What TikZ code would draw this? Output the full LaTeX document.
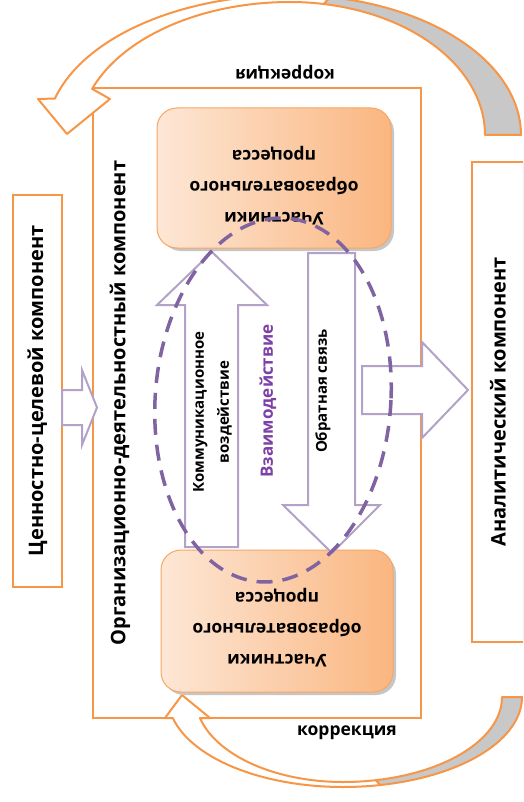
\documentclass[tikz,border=0pt]{standalone}
\usepackage{fontspec}
\setmainfont{Open Sans}
\definecolor{org}{HTML}{F79646}
\definecolor{lpur}{HTML}{B3A2C7}
\definecolor{dpur}{HTML}{8064A2}
\definecolor{tpur}{HTML}{7E3FA6}
\definecolor{pl}{HTML}{FDE7D6}
\definecolor{pr}{HTML}{FAB680}
\definecolor{shd}{HTML}{C8C8C8}
\tikzset{
  comp/.style={draw=org, line width=2.5pt, fill=white, inner sep=0pt},
  part/.style={draw=org!85, line width=1pt, rounded corners=20pt, left color=pl, right color=pr,
     minimum width=234pt, minimum height=140pt, inner sep=0pt},
  barrow/.style={draw=lpur, line width=2pt, fill=white, line join=miter},
  curv/.style={draw=org, line width=2pt, fill=white, line join=round},
  biglbl/.style={font=\bfseries\fontsize{20}{24}\selectfont, inner sep=0pt},
  plbl/.style={font=\bfseries\fontsize{17.5}{31}\selectfont, align=center, inner sep=0pt, rotate=180},
  korr/.style={font=\bfseries\fontsize{17.5}{21}\selectfont, inner sep=0pt},
}
\begin{document}
\begin{tikzpicture}[x=1pt,y=-1pt]
\useasboundingbox (0,0) rectangle (523,802);
\clip (0,0) rectangle (523,802);
% main components
\node[comp, minimum width=328pt, minimum height=630pt] (od) at (257,403) {};
\node[biglbl, rotate=90] (odl) at (120,403) {Организационно-деятельностный компонент};
\node[comp, biglbl, rotate=90, minimum width=392pt, minimum height=49pt] (vc) at (37.5,391) {Ценностно-целевой компонент};
\node[comp, biglbl, rotate=90, minimum width=480pt, minimum height=52pt] (an) at (498,402) {Аналитический компонент};
% top curved arrow
\path[curv] plot[domain=195.1:270, samples=40, variable=\t] ({290+243.5*cos(\t)},{135+140*sin(\t)})
  -- plot[domain=270:280, samples=10, variable=\t] ({290+231*cos(\t)},{135+140*sin(\t)})
  -- plot[domain=280:270, samples=10, variable=\t] ({290+195*cos(\t)},{135+133*sin(\t)})
  -- plot[domain=270:200.3, samples=40, variable=\t] ({290+211*cos(\t)},{135+133*sin(\t)})
  -- (110,99) -- (67,134) -- (38,99) -- cycle;
\path[curv, fill=shd] plot[domain=280:360, samples=40, variable=\t] ({290+231*cos(\t)},{135+140*sin(\t)})
  -- plot[domain=360:280, samples=40, variable=\t] ({290+195*cos(\t)},{135+133*sin(\t)}) -- cycle;
% bottom curved arrow
\path[curv] plot[domain=166.5:90, samples=40, variable=\t] ({343+175*cos(\t)},{697+90*sin(\t)})
  -- plot[domain=90:78, samples=10, variable=\t] ({343+179*cos(\t)},{697+90*sin(\t)})
  -- plot[domain=78:90, samples=10, variable=\t] ({343+159*cos(\t)},{697+85*sin(\t)})
  -- plot[domain=90:165.7, samples=40, variable=\t] ({343+147.6*cos(\t)},{697+85*sin(\t)})
  -- (210,718) -- (182,695) -- (165,718) -- cycle;
\path[curv, fill=shd] plot[domain=78:0, samples=40, variable=\t] ({343+179*cos(\t)},{697+90*sin(\t)})
  -- plot[domain=0:78, samples=40, variable=\t] ({343+159*cos(\t)},{697+85*sin(\t)}) -- cycle;
\node[korr, rotate=180] (k1) at (285,72) {коррекция};
\node[korr] (k2) at (347,733) {коррекция};
% participants
\fill[gray!45, rounded corners=20pt] (161,112) rectangle (394,251);
\node[part] (p1) at (274,178) {};
\node[plbl] (p1t) at (274,186) {Участники\\образовательного\\процесса};
\fill[gray!45, rounded corners=20pt] (164,554) rectangle (396,695);
\node[part, minimum width=232pt, minimum height=142pt] (p2) at (277,621) {};
\node[plbl] (p2t) at (277,628) {Участники\\образовательного\\процесса};
% block arrows
\draw[barrow] (62,390) -- (82,390) -- (82,370) -- (97,407.5) -- (82,445) -- (82,425) -- (62,425) -- cycle;
\draw[barrow] (362,366) -- (422,366) -- (422,342) -- (468,390) -- (422,438) -- (422,414) -- (362,414) -- cycle;
\draw[barrow] (185,547) -- (185,305) -- (157,305) -- (212,252) -- (267,305) -- (238,305) -- (238,547) -- cycle;
\draw[barrow] (308,253) -- (355,253) -- (355,505) -- (380,505) -- (332,553) -- (283,505) -- (308,505) -- cycle;
\node[font=\bfseries\fontsize{15}{25}\selectfont, align=center, rotate=90, inner sep=0pt] (ko) at (212.5,412) {Коммуникационное\\воздействие};
\node[font=\bfseries\fontsize{17}{21}\selectfont, text=tpur, rotate=90, inner sep=0pt] (vz) at (268,401) {Взаимодействие};
\node[font=\bfseries\fontsize{15}{18}\selectfont, rotate=90, inner sep=0pt] (os) at (323,391) {Обратная связь};
% dashed ellipse
\draw[dpur, line width=3.5pt, dash pattern=on 16pt off 10pt]
  plot[domain=0:360, samples=120, smooth, variable=\t] ({273+118*cos(\t)-8*sin(\t)},{400+182*sin(\t)}) -- cycle;
\end{tikzpicture}
\end{document}
